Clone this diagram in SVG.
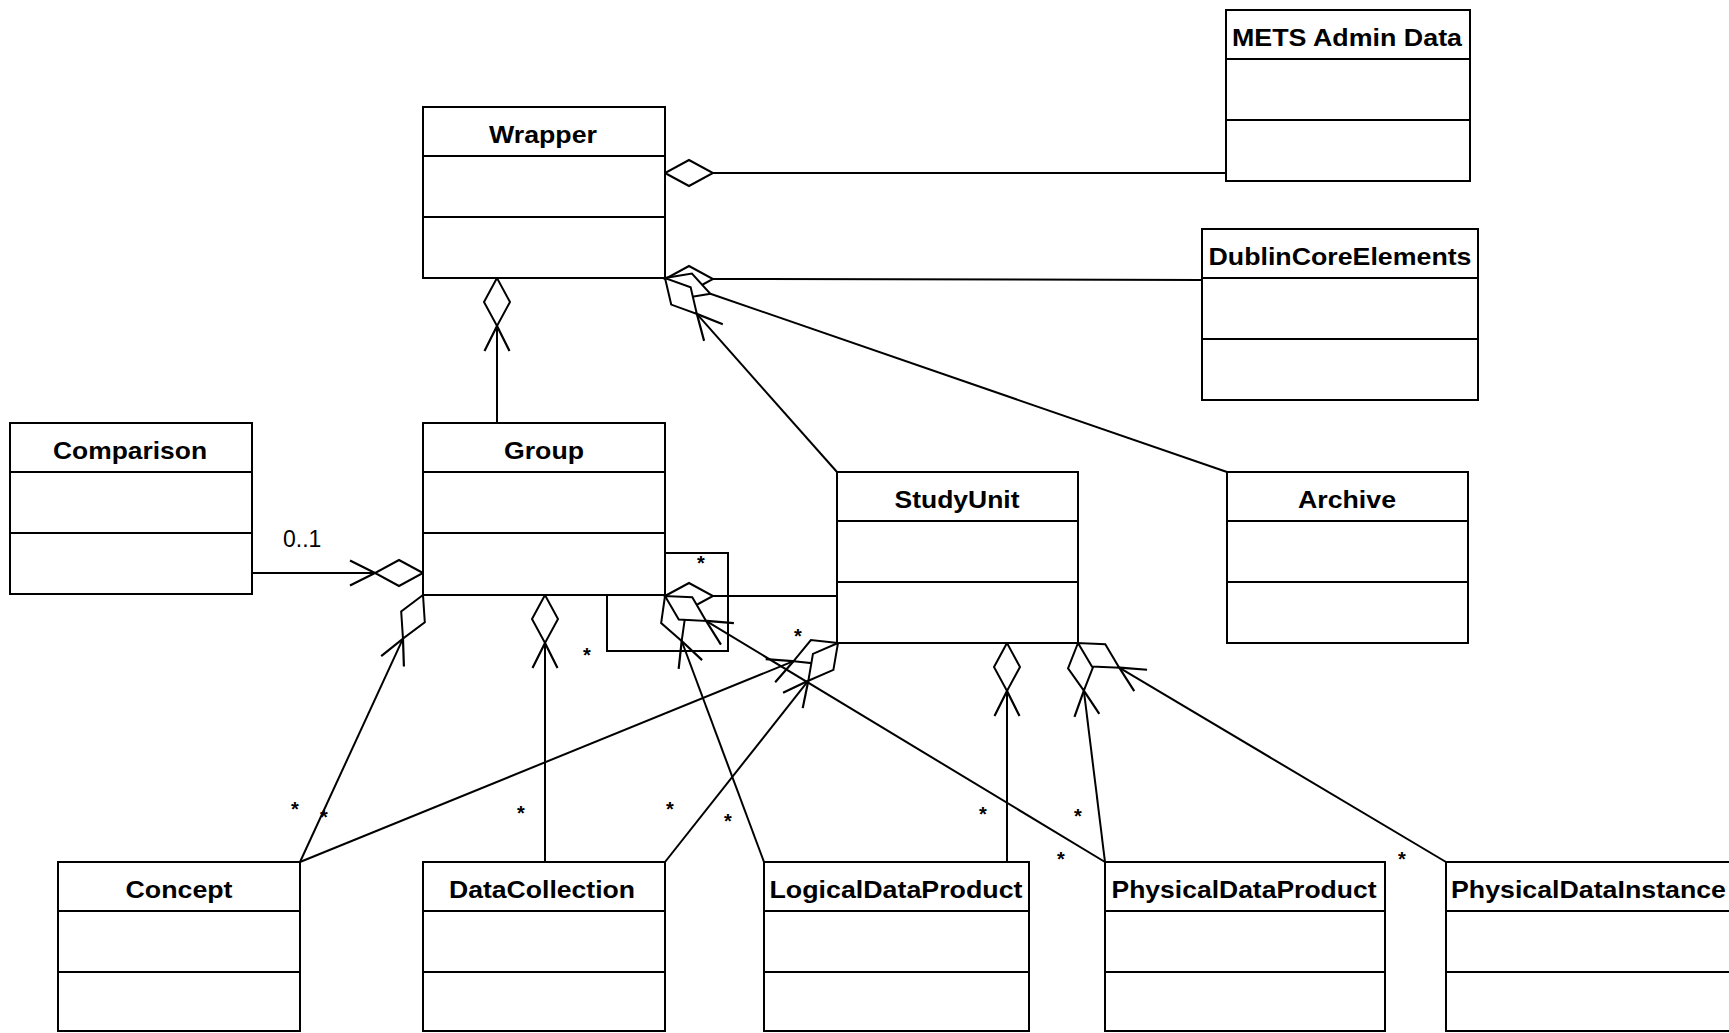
<svg xmlns="http://www.w3.org/2000/svg" width="1729" height="1033" viewBox="0 0 1729 1033">
<style>
.box{fill:#fff;stroke:#000;stroke-width:2}
.sep{stroke:#000;stroke-width:2}
.title{font-family:"Liberation Sans",Arial,sans-serif;font-weight:bold;font-size:24px;text-anchor:middle;fill:#000}
.ln{fill:none;stroke:#000;stroke-width:2}
.dia{fill:#fff;stroke:#000;stroke-width:2;stroke-linejoin:miter}
.arr{fill:none;stroke:#000;stroke-width:2.2}
.mult{font-family:"Liberation Sans",Arial,sans-serif;font-weight:bold;font-size:20px;text-anchor:middle;fill:#000}
.lbl{font-family:"Liberation Sans",Arial,sans-serif;font-size:23px;fill:#000}
</style>
<rect width="1729" height="1033" fill="#fff"/>

<g id="connectors">
  <!-- lines -->
  <line class="ln" x1="713" y1="173" x2="1226" y2="173"/>
  <line class="ln" x1="713" y1="279" x2="1202" y2="280"/>
  <line class="ln" x1="710.35" y1="293.73" x2="1227" y2="472"/>
  <line class="ln" x1="696.85" y1="313.90" x2="837" y2="472"/>
  <line class="ln" x1="497" y1="326" x2="497" y2="423"/>
  <line class="ln" x1="375" y1="573" x2="252" y2="573"/>
  <line class="ln" x1="402.98" y1="638.62" x2="300" y2="862"/>
  <line class="ln" x1="545" y1="643" x2="545" y2="862"/>
  <polyline class="ln" points="665,553 728,553 728,651 607,651 607,595"/>
  <line class="ln" x1="713" y1="596" x2="837" y2="596"/>
  <line class="ln" x1="681.69" y1="641.01" x2="764" y2="862"/>
  <line class="ln" x1="706.04" y1="620.90" x2="1105" y2="862"/>
  <line class="ln" x1="793.57" y1="661.17" x2="300" y2="862"/>
  <line class="ln" x1="808.33" y1="680.73" x2="665" y2="862"/>
  <line class="ln" x1="1007" y1="691" x2="1007" y2="862"/>
  <line class="ln" x1="1083.85" y1="690.64" x2="1105" y2="862"/>
  <line class="ln" x1="1119.20" y1="667.63" x2="1446" y2="862"/>

  <!-- diamonds -->
  <polygon class="dia" points="665,173 689,186 713,173 689,160"/>
  <polygon class="dia" points="665,279 689,292 713,279 689,266"/>
  <polygon class="dia" points="665,278 683.41,298.15 710.35,293.73 691.93,273.59"/>
  <polygon class="dia" points="665,278 671.21,304.58 696.85,313.90 690.65,287.32"/>
  <polygon class="dia" points="497,278 484,302 497,326 510,302"/>
  <polygon class="dia" points="423,573 399,560 375,573 399,586"/>
  <polygon class="dia" points="423,595 401.18,611.39 402.98,638.62 424.80,622.23"/>
  <polygon class="dia" points="545,595 532,619 545,643 558,619"/>
  <polygon class="dia" points="665,596 689,583 713,596 689,609"/>
  <polygon class="dia" points="665,596 661.15,623.02 681.69,641.01 685.53,613.98"/>
  <polygon class="dia" points="665,596 678.77,619.56 706.04,620.90 692.26,597.34"/>
  <polygon class="dia" points="838,643 810.87,640.05 793.57,661.17 820.71,664.11"/>
  <polygon class="dia" points="838,643 812.95,653.83 808.33,680.73 833.39,669.90"/>
  <polygon class="dia" points="1007,643 994,667 1007,691 1020,667"/>
  <polygon class="dia" points="1078,643 1068.02,668.40 1083.85,690.64 1093.83,665.24"/>
  <polygon class="dia" points="1078,643 1091.93,666.47 1119.20,667.63 1105.27,644.15"/>

  <!-- arrowheads -->
  <polyline class="arr" points="704.09,340.90 696.85,313.90 722.79,324.30"/>
  <polyline class="arr" points="484.5,351 497,326 509.5,351"/>
  <polyline class="arr" points="350,560.5 375,573 350,585.5"/>
  <polyline class="arr" points="381.19,656.13 402.98,638.62 403.91,666.55"/>
  <polyline class="arr" points="532.5,668 545,643 557.5,668"/>
  <polyline class="arr" points="678.66,668.80 681.69,641.01 702.10,660.10"/>
  <polyline class="arr" points="720.93,644.56 706.04,620.90 733.90,623.18"/>
  <polyline class="arr" points="765.70,659.06 793.57,661.17 775.16,682.20"/>
  <polyline class="arr" points="783.05,692.65 808.33,680.73 802.71,708.11"/>
  <polyline class="arr" points="994.5,716 1007,691 1019.5,716"/>
  <polyline class="arr" points="1074.48,716.98 1083.85,690.64 1099.30,713.94"/>
  <polyline class="arr" points="1134.25,691.19 1119.20,667.63 1147.07,669.73"/>

  <!-- labels -->
  <text class="lbl" x="283" y="547">0..1</text>
  <text class="mult" x="701" y="569.5">*</text>
  <text class="mult" x="587" y="661.5">*</text>
  <text class="mult" x="798" y="642.5">*</text>
  <text class="mult" x="295" y="815.5">*</text>
  <text class="mult" x="324" y="823.5">*</text>
  <text class="mult" x="521" y="819.5">*</text>
  <text class="mult" x="670" y="815.5">*</text>
  <text class="mult" x="728" y="827.5">*</text>
  <text class="mult" x="983" y="820.5">*</text>
  <text class="mult" x="1078" y="822.5">*</text>
  <text class="mult" x="1061" y="865.5">*</text>
  <text class="mult" x="1402" y="865.5">*</text>
</g>

<g id="node-wrapper">
  <rect class="box" x="423" y="107" width="242" height="171"/>
  <line class="sep" x1="423" y1="156" x2="665" y2="156"/>
  <line class="sep" x1="423" y1="217" x2="665" y2="217"/>
  <text class="title" x="543" y="143" textLength="108" lengthAdjust="spacingAndGlyphs">Wrapper</text>
</g>
<g id="node-mets">
  <rect class="box" x="1226" y="10" width="244" height="171"/>
  <line class="sep" x1="1226" y1="59" x2="1470" y2="59"/>
  <line class="sep" x1="1226" y1="120" x2="1470" y2="120"/>
  <text class="title" x="1347" y="46" textLength="230" lengthAdjust="spacingAndGlyphs">METS Admin Data</text>
</g>
<g id="node-dublincore">
  <rect class="box" x="1202" y="229" width="276" height="171"/>
  <line class="sep" x1="1202" y1="278" x2="1478" y2="278"/>
  <line class="sep" x1="1202" y1="339" x2="1478" y2="339"/>
  <text class="title" x="1340" y="265" textLength="263" lengthAdjust="spacingAndGlyphs">DublinCoreElements</text>
</g>
<g id="node-comparison">
  <rect class="box" x="10" y="423" width="242" height="171"/>
  <line class="sep" x1="10" y1="472" x2="252" y2="472"/>
  <line class="sep" x1="10" y1="533" x2="252" y2="533"/>
  <text class="title" x="130" y="459" textLength="154" lengthAdjust="spacingAndGlyphs">Comparison</text>
</g>
<g id="node-group">
  <rect class="box" x="423" y="423" width="242" height="172"/>
  <line class="sep" x1="423" y1="472" x2="665" y2="472"/>
  <line class="sep" x1="423" y1="533" x2="665" y2="533"/>
  <text class="title" x="544" y="459" textLength="80" lengthAdjust="spacingAndGlyphs">Group</text>
</g>
<g id="node-studyunit">
  <rect class="box" x="837" y="472" width="241" height="171"/>
  <line class="sep" x1="837" y1="521" x2="1078" y2="521"/>
  <line class="sep" x1="837" y1="582" x2="1078" y2="582"/>
  <text class="title" x="957" y="508" textLength="125" lengthAdjust="spacingAndGlyphs">StudyUnit</text>
</g>
<g id="node-archive">
  <rect class="box" x="1227" y="472" width="241" height="171"/>
  <line class="sep" x1="1227" y1="521" x2="1468" y2="521"/>
  <line class="sep" x1="1227" y1="582" x2="1468" y2="582"/>
  <text class="title" x="1347" y="508" textLength="98" lengthAdjust="spacingAndGlyphs">Archive</text>
</g>
<g id="node-concept">
  <rect class="box" x="58" y="862" width="242" height="169"/>
  <line class="sep" x1="58" y1="911" x2="300" y2="911"/>
  <line class="sep" x1="58" y1="972" x2="300" y2="972"/>
  <text class="title" x="179" y="898" textLength="107" lengthAdjust="spacingAndGlyphs">Concept</text>
</g>
<g id="node-datacollection">
  <rect class="box" x="423" y="862" width="242" height="169"/>
  <line class="sep" x1="423" y1="911" x2="665" y2="911"/>
  <line class="sep" x1="423" y1="972" x2="665" y2="972"/>
  <text class="title" x="542" y="898" textLength="186" lengthAdjust="spacingAndGlyphs">DataCollection</text>
</g>
<g id="node-logicaldataproduct">
  <rect class="box" x="764" y="862" width="265" height="169"/>
  <line class="sep" x1="764" y1="911" x2="1029" y2="911"/>
  <line class="sep" x1="764" y1="972" x2="1029" y2="972"/>
  <text class="title" x="896" y="898" textLength="253" lengthAdjust="spacingAndGlyphs">LogicalDataProduct</text>
</g>
<g id="node-physicaldataproduct">
  <rect class="box" x="1105" y="862" width="280" height="169"/>
  <line class="sep" x1="1105" y1="911" x2="1385" y2="911"/>
  <line class="sep" x1="1105" y1="972" x2="1385" y2="972"/>
  <text class="title" x="1244" y="898" textLength="265" lengthAdjust="spacingAndGlyphs">PhysicalDataProduct</text>
</g>
<g id="node-physicaldatainstance">
  <rect class="box" x="1446" y="862" width="290" height="169"/>
  <line class="sep" x1="1446" y1="911" x2="1736" y2="911"/>
  <line class="sep" x1="1446" y1="972" x2="1736" y2="972"/>
  <text class="title" x="1588.5" y="898" textLength="275" lengthAdjust="spacingAndGlyphs">PhysicalDataInstance</text>
</g>
</svg>
